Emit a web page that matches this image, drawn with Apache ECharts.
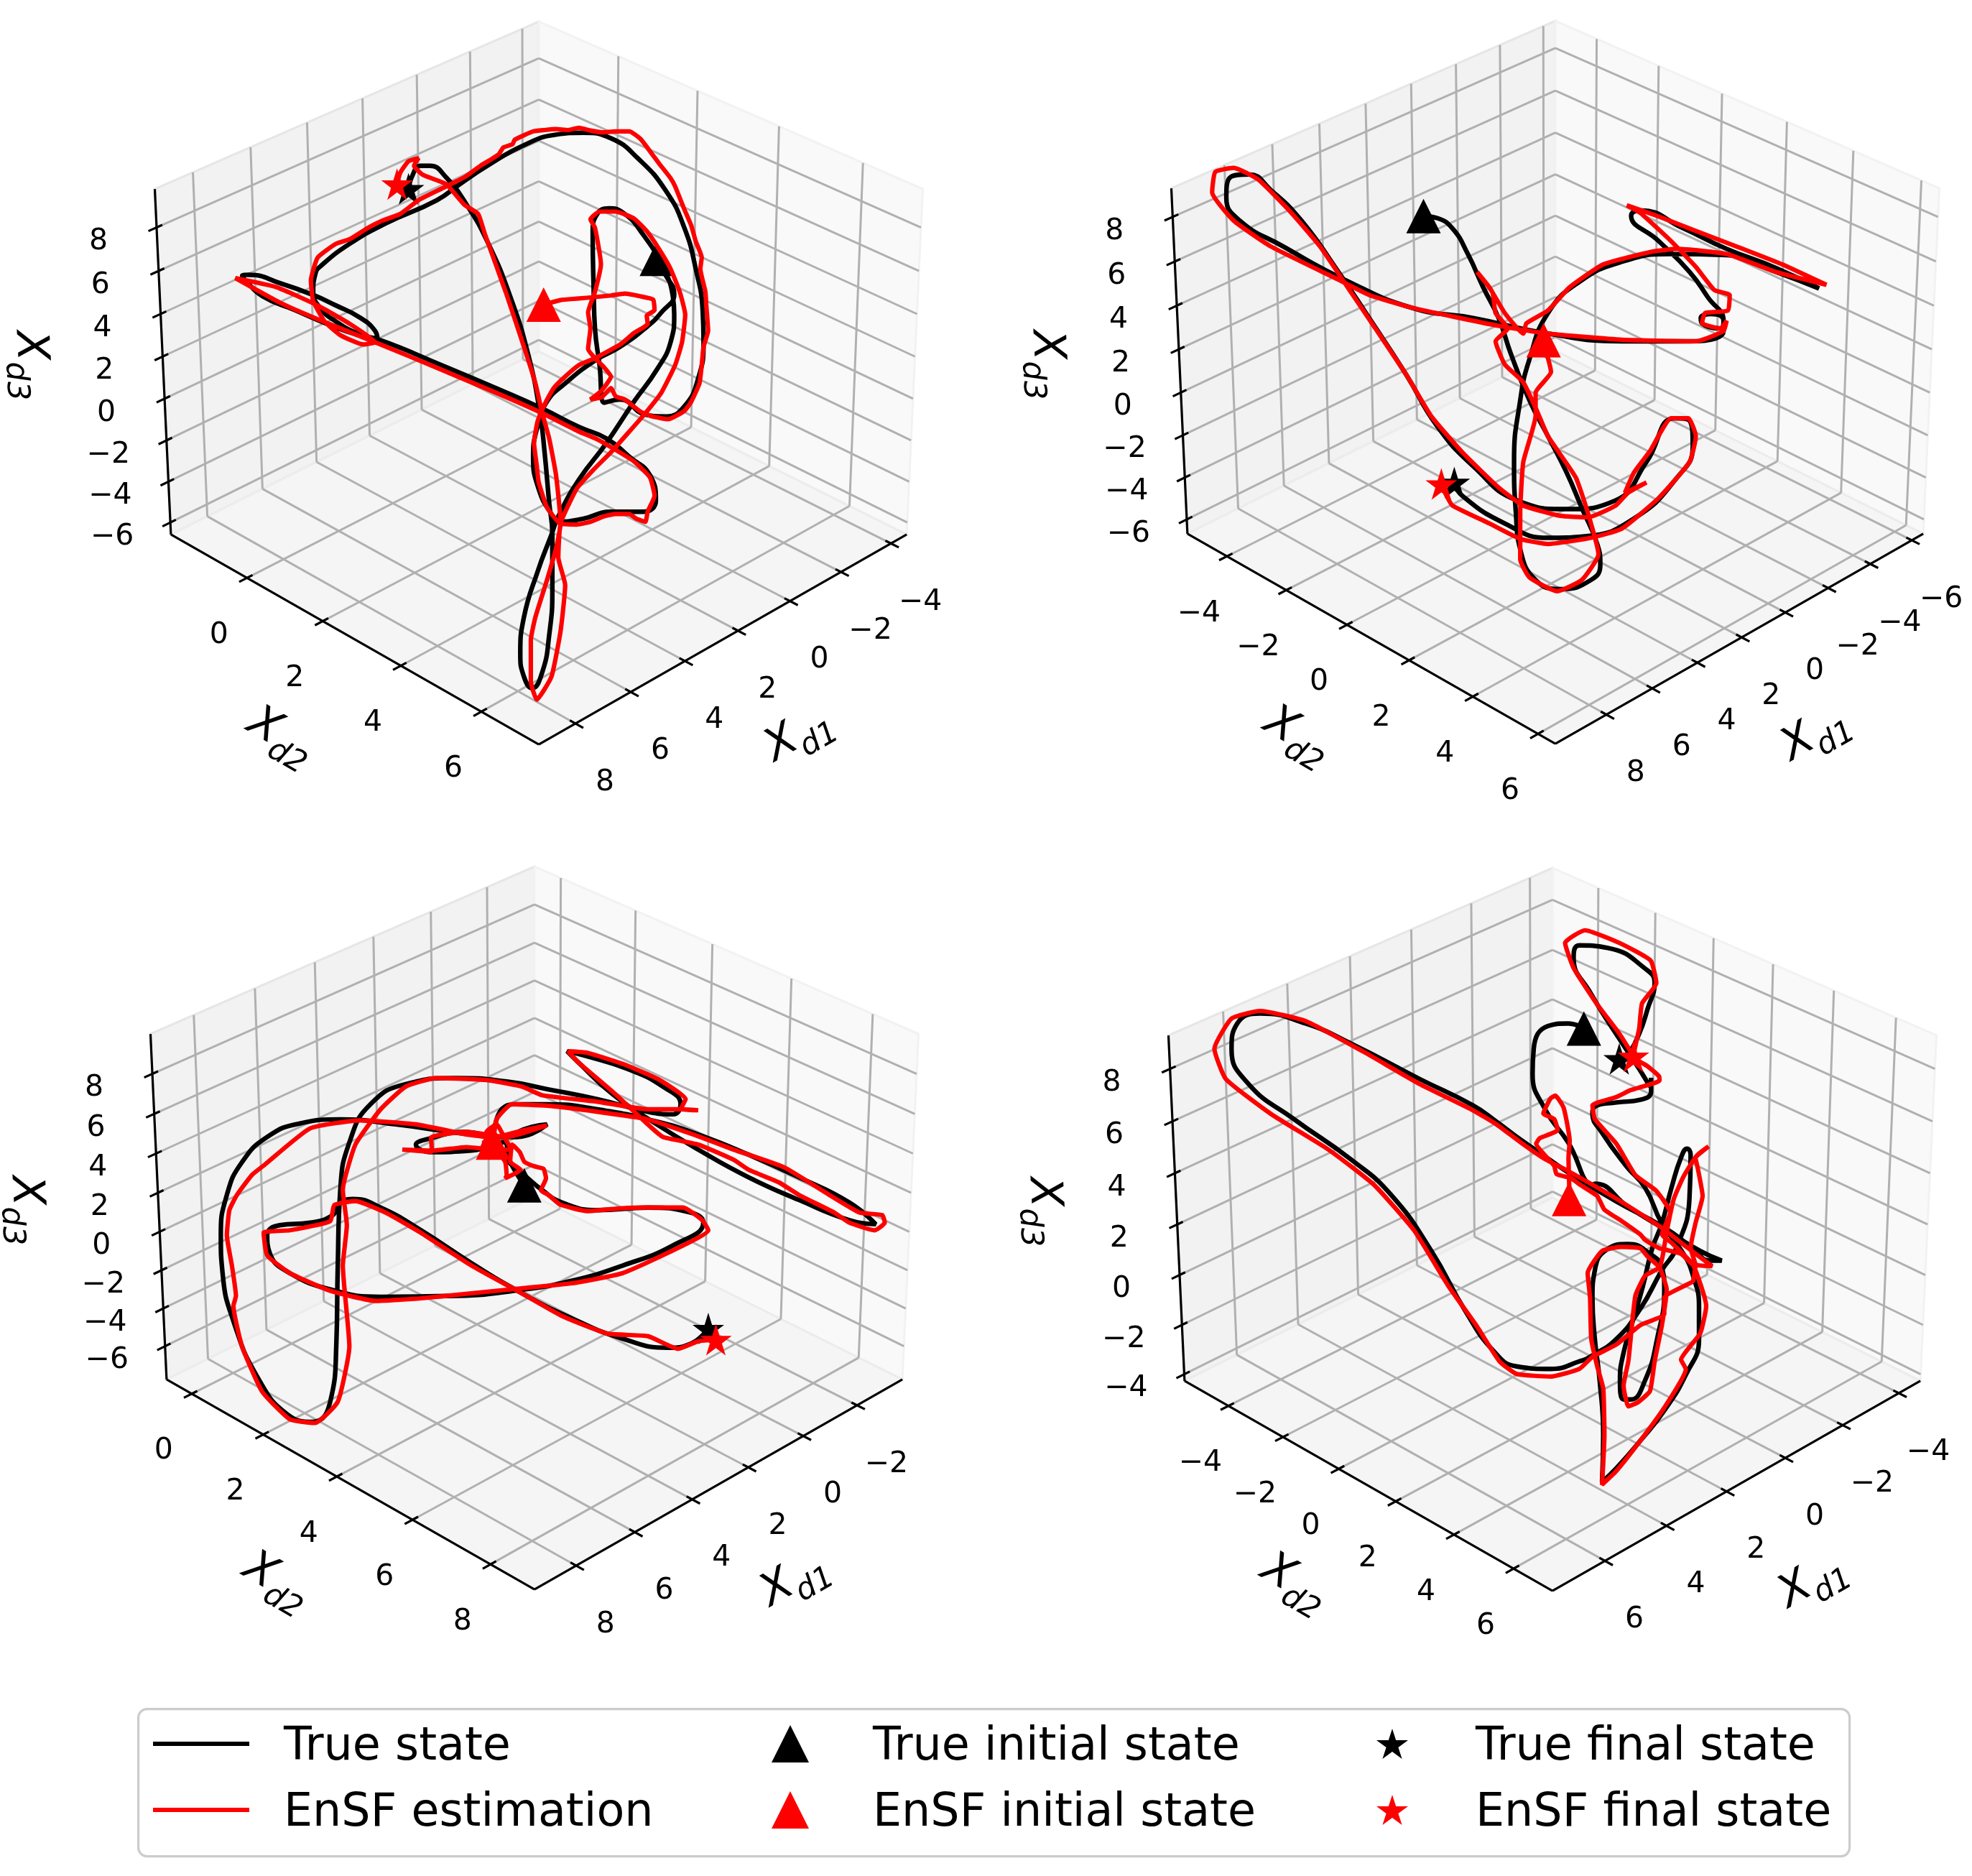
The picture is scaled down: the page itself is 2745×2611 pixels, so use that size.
<!DOCTYPE html>
<html><head><meta charset="utf-8">
<style>html,body{margin:0;padding:0;background:#fff}#c{width:2745px;height:2611px}</style>
<script src="https://cdn.jsdelivr.net/npm/echarts@6/dist/echarts.min.js"></script>
</head><body><div id="c"></div>
<script>
// ---- axis tick labels of every panel ----
const p1TicksD1=[-4,-2,0,2,4,6,8], p1TicksD2=[0,2,4,6], p1TicksD3=[-6,-4,-2,0,2,4,6,8];
const p2TicksD1=[-6,-4,-2,0,2,4,6,8], p2TicksD2=[-4,-2,0,2,4,6], p2TicksD3=[-6,-4,-2,0,2,4,6,8];
const p3TicksD1=[-2,0,2,4,6,8], p3TicksD2=[0,2,4,6,8], p3TicksD3=[-6,-4,-2,0,2,4,6,8];
const p4TicksD1=[-4,-2,0,2,4,6], p4TicksD2=[-4,-2,0,2,4,6], p4TicksD3=[-4,-2,0,2,4,6,8];
// ---- axis limits of every panel ----
const p1Lim={d1:[-4.64,9.30],d2:[-2.07,7.39],d3:[-6.59,9.75]};
const p2Lim={d1:[-6.56,10.18],d2:[-5.36,6.52],d3:[-6.69,9.27]};
const p3Lim={d1:[-3.72,9.39],d2:[-0.717,9.10],d3:[-7.77,9.97]};
const p4Lim={d1:[-4.78,7.67],d2:[-5.64,7.28],d3:[-4.27,9.26]};
// ---- projected trajectories (screen-plane units of each panel) ----
const p1True=[[1120,415],[1140,445],[1158,485],[1130,525],[1100,555],[1040,600],[985,630],[920,680],[880,720],[858,780],[850,840],[862,910],[890,965],[908,982],[960,975],[1020,960],[1090,960],[1118,935],[1105,880],[1060,840],[1010,800],[950,775],[870,735],[780,695],[650,640],[515,585],[470,575],[400,550],[330,520],[260,490],[222,455],[215,445],[230,443],[300,462],[370,487],[420,510],[470,535],[505,565],[510,582],[470,572],[420,545],[385,515],[370,480],[375,440],[385,425],[450,375],[530,330],[640,280],[690,245],[750,205],[830,160],[900,137],[960,133],[1020,145],[1080,190],[1140,260],[1180,340],[1205,430],[1220,520],[1222,590],[1210,670],[1180,730],[1140,752],[1095,748],[1040,715],[1005,722],[995,640],[985,560],[982,470],[980,350],[990,310],[1015,298],[1050,310],[1090,355],[1130,420],[1155,490],[1158,530],[1150,590],[1120,650],[1070,720],[1010,810],[950,890],[905,970],[890,1010],[860,1090],[830,1190],[822,1270],[830,1320],[848,1345],[870,1310],[885,1230],[892,1130],[892,1010],[885,940],[875,830],[865,745],[840,620],[800,490],[750,370],[705,290],[660,230],[625,205],[605,205],[585,230],[578,262]];
const p1Est=[[873,508],[910,498],[945,495],[980,492],[1020,488],[1050,484],[1085,490],[1112,497],[1115,520],[1098,532],[1100,550],[1070,570],[1040,595],[985,625],[950,640],[920,665],[895,690],[878,720],[860,762],[852,810],[858,860],[862,895],[880,950],[908,985],[945,988],[975,982],[1005,970],[1030,965],[1060,965],[1075,975],[1095,982],[1100,960],[1115,925],[1105,885],[1070,850],[1030,825],[990,802],[950,785],[870,745],[780,705],[650,650],[510,592],[380,540],[300,505],[200,450],[290,470],[380,510],[450,550],[505,590],[480,595],[430,575],[395,545],[370,500],[365,455],[380,405],[420,375],[450,365],[490,340],[520,325],[560,310],[600,280],[650,255],[700,230],[735,205],[760,190],[775,180],[785,165],[805,158],[810,148],[850,130],[875,127],[900,125],[925,127],[950,122],[975,128],[1000,132],[1030,130],[1060,130],[1085,147],[1110,180],[1125,200],[1150,232],[1160,250],[1172,280],[1180,300],[1195,335],[1205,370],[1218,405],[1215,430],[1226,480],[1228,510],[1232,565],[1222,600],[1218,640],[1213,680],[1195,720],[1180,740],[1145,758],[1110,752],[1085,742],[1050,715],[1030,708],[1020,690],[1000,710],[975,715],[1000,695],[1020,665],[1005,645],[985,625],[970,605],[975,560],[970,525],[985,480],[998,420],[985,340],[975,322],[995,305],[1030,305],[1070,320],[1100,350],[1130,395],[1150,430],[1170,480],[1182,530],[1175,590],[1160,640],[1130,700],[1095,745],[1060,785],[1020,830],[980,870],[945,910],[910,985],[905,1060],[920,1120],[910,1220],[890,1320],[858,1370],[845,1330],[845,1240],[855,1190],[880,1110],[900,1040],[910,985],[900,880],[885,800],[870,745],[855,680],[830,600],[790,480],[745,355],[730,310],[700,290],[660,245],[610,225],[590,205],[600,188],[578,195],[560,220],[553,245]];
const p1Marks={trueStart:[1120,408],estStart:[873,508],trueEnd:[578,255],estEnd:[553,245]};

const p2True=[[678,421],[700,425],[725,445],[750,495],[775,560],[800,620],[820,690],[850,780],[880,850],[910,920],[935,990],[960,1060],[965,1100],[950,1130],[900,1148],[860,1130],[835,1070],[828,1000],[825,900],[835,780],[850,700],[880,610],[930,550],[1000,510],[1080,495],[1170,497],[1250,530],[1320,562],[1250,522],[1170,485],[1100,445],[1030,410],[1015,420],[1060,470],[1110,530],[1140,580],[1165,625],[1160,640],[1130,630],[1128,620],[1145,612],[1165,625],[1165,645],[1110,665],[1000,665],[880,650],[760,620],[660,600],[550,545],[450,480],[380,430],[358,385],[365,345],[395,340],[430,370],[480,430],[540,530],[590,620],[650,730],[700,830],[760,910],[830,975],[910,992],[990,975],[1040,900],[1085,815],[1110,820],[1115,870],[1090,930],[1020,1010],[940,1045],[880,1048],[810,1020],[740,965],[728,940]];
const p2Est=[[873,668],[885,725],[860,765],[860,810],[840,900],[835,1000],[835,1050],[835,1090],[850,1125],[895,1152],[935,1130],[962,1080],[945,1000],[925,930],[880,850],[862,800],[840,745],[810,710],[795,665],[815,640],[795,610],[790,570],[765,530],[785,560],[810,610],[840,650],[845,630],[880,605],[915,560],[970,515],[1050,490],[1090,485],[1170,495],[1250,530],[1332,555],[1260,515],[1190,482],[1120,450],[1060,422],[1008,400],[1030,415],[1080,470],[1120,520],[1150,565],[1175,575],[1172,605],[1135,610],[1130,630],[1160,640],[1170,625],[1165,645],[1120,665],[1000,662],[880,650],[800,635],[660,600],[590,575],[540,545],[430,480],[370,430],[335,375],[340,335],[370,327],[410,350],[460,410],[510,480],[555,560],[600,640],[650,730],[690,810],[740,880],[800,950],[840,985],[900,1005],[945,1008],[990,985],[1010,960],[1040,940],[1005,960],[1020,920],[1045,880],[1080,815],[1108,815],[1120,850],[1110,900],[1060,970],[1000,1030],[950,1048],[880,1060],[835,1050],[785,1020],[725,985],[715,965],[707,943]];
const p2Marks={trueStart:[678,421],estStart:[873,663],trueEnd:[728,940],estEnd:[707,943]};

const p3True=[[755,640],[725,590],[715,555],[650,572],[570,575],[540,560],[560,550],[640,535],[700,545],[770,525],[800,520],[740,545],[650,540],[500,520],[390,510],[310,518],[245,545],[195,595],[165,660],[153,740],[157,820],[178,910],[225,1020],[285,1095],[335,1110],[370,1070],[382,960],[385,800],[390,650],[410,550],[450,480],[520,440],[620,428],[720,435],[800,450],[900,470],[1000,495],[1050,500],[1065,480],[1030,445],[960,410],[880,385],[840,375],[860,395],[930,460],[1010,515],[1100,570],[1200,625],[1300,670],[1400,710],[1452,718],[1400,675],[1300,625],[1200,580],[1100,540],[1020,515],[900,490],[800,480],[735,480],[700,510],[695,550],[720,590],[760,625],[790,650],[830,675],[900,690],[1000,685],[1085,695],[1110,715],[1050,760],[950,800],[850,830],[750,848],[620,860],[470,862],[380,850],[290,815],[250,775],[245,740],[270,720],[330,715],[375,700],[385,680],[415,668],[470,685],[550,730],[650,795],[750,855],[850,905],[950,945],[1040,963],[1085,955],[1120,925]];
const p3Est=[[693,556],[680,535],[700,520],[715,545],[730,570],[670,570],[690,530],[710,575],[675,555],[740,535],[800,522],[720,545],[640,535],[570,546],[572,575],[513,570],[575,572],[640,565],[693,570],[700,550],[640,540],[540,520],[430,512],[330,528],[240,600],[215,620],[185,660],[170,690],[165,740],[175,800],[183,860],[178,880],[195,960],[235,1050],[290,1105],[340,1112],[385,1070],[408,960],[395,800],[403,720],[395,650],[420,560],[470,490],[520,445],[580,428],[680,432],[750,445],[790,462],[900,475],[1000,490],[1065,490],[1100,492],[1065,490],[1075,470],[1020,430],[950,400],[880,378],[842,375],[860,395],[930,455],[1000,520],[1030,545],[1100,560],[1170,590],[1200,610],[1260,635],[1300,660],[1370,695],[1400,715],[1450,730],[1470,715],[1465,700],[1420,695],[1360,660],[1270,605],[1170,570],[1090,540],[1000,510],[900,495],[800,483],[730,480],[700,510],[693,560],[717,594],[720,622],[717,627],[748,610],[727,594],[731,560],[746,575],[755,594],[774,603],[793,608],[798,627],[788,651],[803,660],[826,679],[880,692],[940,687],[1000,685],[1070,685],[1108,710],[1120,730],[1050,770],[950,815],[850,835],[750,845],[650,855],[550,865],[460,870],[370,850],[290,815],[245,780],[238,735],[290,730],[370,712],[378,680],[420,672],[480,695],[550,735],[650,800],[750,855],[830,900],[920,935],[1000,940],[1060,965],[1100,950],[1135,947]];
const p3Marks={trueStart:[755,641],estStart:[693,556],trueEnd:[1120,925],estEnd:[1135,947]};

// panel 4 is read from two magnifications: "wide" and "close"
const p4TrueA=[[888,330],[860,320],[825,325],[800,370],[798,420],[820,490],[860,555],[905,640]];
const p4TrueB=[[510,385],[650,470],[800,550],[950,630],[1040,665],[990,665],[920,620],[800,545],[600,450],[400,345],[300,285],[200,225],[100,160],[0,100]];
const p4TrueC=[[600,430],[480,360],[400,320],[320,300],[280,320],[270,370],[300,440],[380,510],[480,590],[550,660],[620,770],[680,890],[730,970],[770,1000],[830,1005],[880,990]];
const p4TrueD=[[500,1010],[600,950],[700,840],[790,700],[850,620],[905,440],[910,280],[895,258],[870,290],[830,400],[790,530],[750,620],[710,760],[670,880],[630,1000],[615,1100],[630,1170],[660,1170],[720,1100],[770,950],[800,770],[790,690],[740,640],[650,605],[560,625],[510,700],[500,800],[510,950],[530,1100],[545,1300],[540,1470],[600,1420],[700,1320],[800,1210],[890,1080],[945,950],[945,830],[920,720],[880,640],[790,530],[720,400],[640,320],[540,200],[500,130],[510,105],[600,90],[700,80],[745,50],[745,0]];
const p4TrueE=[[1005,445],[985,410],[950,350],[900,260],[870,190],[880,165],[930,170],[1000,215],[1012,240],[1000,290],[985,340],[965,380],[950,390]];
const p4EstA=[[405,440],[400,290],[405,230],[380,110],[345,65],[325,75],[295,130],[340,150],[355,190],[280,220],[265,240],[340,320],[350,350],[410,365],[450,390],[520,430],[550,480],[620,520],[700,570],[720,590],[780,620],[870,640],[920,680],[1000,685],[900,620],[780,540],[600,440],[400,340],[300,295],[200,235],[100,170],[0,118]];
const p4EstB=[[600,440],[500,375],[400,315],[320,295],[270,310],[240,370],[260,430],[340,500],[440,570],[520,640],[590,730],[650,840],[700,920],[740,990],[770,1015],[830,1020],[880,1005]];
const p4EstC=[[500,1015],[600,970],[700,900],[800,860],[800,800],[900,750],[920,740],[930,680],[910,620],[930,530],[960,430],[940,330],[930,290],[985,250],[930,290],[880,360],[840,440],[810,560],[795,640],[780,690],[720,720],[680,790],[665,900],[650,1030],[630,1120],[650,1195],[690,1180],[740,1140],[760,1030],[790,900],[810,770],[780,690],[730,650],[700,620],[620,615],[540,630],[480,710],[490,800],[495,950],[520,1050],[545,1130],[550,1300],[540,1480],[600,1430],[700,1320],[800,1200],[890,1060],[870,1025],[950,930],[975,830],[920,680],[830,600],[790,570],[825,490],[765,410],[680,355],[600,240],[510,150],[500,100],[600,70],[660,45],[780,10]];
const p4EstD=[[1020,425],[1000,405],[975,385],[985,330],[990,280],[1015,240],[1005,195],[950,160],[890,135],[855,160],[870,210],[910,280],[950,340],[975,385]];
const p4Marks={trueStart:[888,330],estStart:[862,668],trueEnd:[950,390],estEnd:[975,385]};

// ---- how each reading maps to the figure's plane ----
const viewP1={ox:200,oy:100,sx:1.568,sy:1.568}, viewP2={ox:1400,oy:0,sx:1.166,sy:1.4},
      viewP3={ox:200,oy:1200,sx:1.425,sy:1.425}, viewP4={ox:1500,oy:1200,sx:1.26,sy:1.425},
      viewP4c={ox:2050,oy:1500,sx:3,sy:2.613};
const toPlane=(v,a)=>a.map(p=>[v.ox+p[0]/v.sx, v.oy+p[1]/v.sy]);

// ---- camera of the 3-D box (elev 30, azim 45, dist 10) ----
const BOX_A=0.5714, BOX_C=0.4286, FOCAL=6473;
const U=[-0.70711,0.70711,0], V=[-0.35355,-0.35355,0.86603], W=[0.61237,0.61237,0.5];
const dot=(a,b)=>a[0]*b[0]+a[1]*b[1]+a[2]*b[2];
function camera(cx,top,lim){
  const y0=top+FOCAL*0.07394;
  return function(d1,d2,d3){
    const p=[((d1-lim.d1[0])/(lim.d1[1]-lim.d1[0])*2-1)*BOX_A,
             ((d2-lim.d2[0])/(lim.d2[1]-lim.d2[0])*2-1)*BOX_A,
             ((d3-lim.d3[0])/(lim.d3[1]-lim.d3[0])*2-1)*BOX_C];
    const d=10-dot(p,W);
    return [cx+FOCAL*dot(p,U)/d, y0-FOCAL*dot(p,V)/d];
  };
}
const fmt=v=>v<0?'\u2212'+(-v):String(v);
const starPath=(()=>{let s='path://';for(let i=0;i<10;i++){const r=i%2?0.381966:1,a=-Math.PI/2+i*Math.PI/5;
  s+=(i?'L':'M')+(r*Math.cos(a)*100+100).toFixed(2)+' '+(r*Math.sin(a)*100+100).toFixed(2);}return s+'Z';})();
// legend glyphs sit slightly above the centre of their text line
const legLineIcon='path://M0 0H134V6H0ZM0 16L0 16';
const legTriIcon='path://M50 0L100 100L0 100ZM50 119L50 119';
const legStarIcon=starPath+'M100 224L100 224';

const GRAY='#b0b0b0', INK='#000000', RED='#ff0000';
const segRender=(stroke,w)=>(params,api)=>{
  const a=api.coord([api.value(0),api.value(1)]), b=api.coord([api.value(2),api.value(3)]);
  return {type:'line',shape:{x1:a[0],y1:a[1],x2:b[0],y2:b[1]},style:{stroke:stroke,lineWidth:w,lineCap:'butt'},silent:true};
};
const polyRender=(fill,edge)=>(params,api)=>{
  const pts=[];for(let i=0;i<4;i++)pts.push(api.coord([api.value(2*i),api.value(2*i+1)]));
  return {type:'polygon',shape:{points:pts},style:{fill:fill,stroke:edge,lineWidth:3},silent:true};
};
const plainFont='DejaVu Sans';
const panels=[
 {cx:750,top:30,lim:p1Lim,t1:p1TicksD1,t2:p1TicksD2,t3:p1TicksD3,tr:toPlane(viewP1,p1True),es:toPlane(viewP1,p1Est),m:toPlane(viewP1,[p1Marks.trueStart,p1Marks.estStart,p1Marks.trueEnd,p1Marks.estEnd]),box:[0,1372,0,1150]},
 {cx:2165,top:29,lim:p2Lim,t1:p2TicksD1,t2:p2TicksD2,t3:p2TicksD3,tr:toPlane(viewP2,p2True),es:toPlane(viewP2,p2Est),m:toPlane(viewP2,[p2Marks.trueStart,p2Marks.estStart,p2Marks.trueEnd,p2Marks.estEnd]),box:[1372,2745,0,1150]},
 {cx:744,top:1206,lim:p3Lim,t1:p3TicksD1,t2:p3TicksD2,t3:p3TicksD3,tr:toPlane(viewP3,p3True),es:toPlane(viewP3,p3Est),m:toPlane(viewP3,[p3Marks.trueStart,p3Marks.estStart,p3Marks.trueEnd,p3Marks.estEnd]),box:[0,1372,1150,2340]},
 {cx:2161,top:1208,lim:p4Lim,t1:p4TicksD1,t2:p4TicksD2,t3:p4TicksD3,
  tr:[].concat(toPlane(viewP4,p4TrueA),toPlane(viewP4c,p4TrueB),toPlane(viewP4,p4TrueC),toPlane(viewP4c,p4TrueD),toPlane(viewP4,p4TrueE)),
  es:[].concat(toPlane(viewP4c,p4EstA),toPlane(viewP4,p4EstB),toPlane(viewP4c,p4EstC),toPlane(viewP4,p4EstD)),
  m:toPlane(viewP4,[p4Marks.trueStart,p4Marks.estStart,p4Marks.trueEnd,p4Marks.estEnd]),box:[1372,2745,1150,2340]}
];
const grid=[],xAxis=[],yAxis=[],series=[];
const solid=c=>({color:c,opacity:1});
panels.forEach((P,i)=>{
  const [x0,x1,y0,y1]=P.box, L=P.lim, pr=camera(P.cx,P.top,L);
  grid.push({left:x0,top:y0,width:x1-x0,height:y1-y0});
  xAxis.push({type:'value',gridIndex:i,min:x0,max:x1,show:false});
  yAxis.push({type:'value',gridIndex:i,min:y0,max:y1,inverse:true,show:false});
  const a1=L.d1[0],b1=L.d1[1],a2=L.d2[0],b2=L.d2[1],a3=L.d3[0],b3=L.d3[1];
  const on={xAxisIndex:i,yAxisIndex:i,clip:false,silent:true};
  const quad=(...c)=>[[].concat(...c)];
  series.push({type:'custom',...on,z:1,renderItem:polyRender('#f2f2f2','#e6e6e6'),data:quad(pr(b1,a2,a3),pr(a1,a2,a3),pr(a1,a2,b3),pr(b1,a2,b3))});
  series.push({type:'custom',...on,z:1,renderItem:polyRender('#f9f9f9','#f2f2f2'),data:quad(pr(a1,a2,a3),pr(a1,b2,a3),pr(a1,b2,b3),pr(a1,a2,b3))});
  series.push({type:'custom',...on,z:1,renderItem:polyRender('#f5f5f5','#ececec'),data:quad(pr(b1,a2,a3),pr(b1,b2,a3),pr(a1,b2,a3),pr(a1,a2,a3))});
  const gl=[],axl=[],tk=[],lab=[];
  P.t1.forEach(v=>{
    gl.push([...pr(v,b2,a3),...pr(v,a2,a3)],[...pr(v,a2,a3),...pr(v,a2,b3)]);
    const e=pr(v,b2,a3), r=b2-a2;
    tk.push([...pr(v,b2+0.02*r,a3),...pr(v,b2-0.014*r,a3)]);
    lab.push({name:fmt(v),value:[e[0]+41,e[1]+82]});
  });
  P.t2.forEach(v=>{
    gl.push([...pr(b1,v,a3),...pr(a1,v,a3)],[...pr(a1,v,a3),...pr(a1,v,b3)]);
    const e=pr(b1,v,a3), r=b1-a1;
    tk.push([...pr(b1+0.02*r,v,a3),...pr(b1-0.014*r,v,a3)]);
    lab.push({name:fmt(v),value:[e[0]-39,e[1]+80]});
  });
  P.t3.forEach(v=>{
    gl.push([...pr(b1,a2,v),...pr(a1,a2,v)],[...pr(a1,a2,v),...pr(a1,b2,v)]);
    const e=pr(b1,a2,v), r=b1-a1;
    tk.push([...pr(b1+0.02*r,a2,v),...pr(b1-0.014*r,a2,v)]);
    lab.push({name:fmt(v),value:[e[0]-81,e[1]+20]});
  });
  axl.push([...pr(b1,a2,a3),...pr(b1,a2,b3)],[...pr(b1,a2,a3),...pr(b1,b2,a3)],[...pr(b1,b2,a3),...pr(a1,b2,a3)]);
  series.push({type:'custom',...on,z:2,renderItem:segRender(GRAY,3),data:gl});
  series.push({type:'custom',...on,z:3,renderItem:segRender(INK,3.2),data:axl.concat(tk)});
  series.push({type:'scatter',...on,z:3,symbolSize:0,itemStyle:{opacity:1},data:lab,label:{show:true,position:'inside',formatter:'{b}',color:INK,opacity:1,fontFamily:plainFont,fontSize:41,align:'center',verticalAlign:'middle'}});
  const axisTitle=(name,sub,xy,rot)=>({type:'scatter',...on,z:3,symbolSize:0,itemStyle:{opacity:1},data:[{name:name,value:xy}],
    label:{show:true,position:'inside',rotate:rot,align:'center',verticalAlign:'middle',opacity:1,
      formatter:'{x|X}{s|'+sub+'}',
      rich:{x:{fontFamily:plainFont,fontStyle:'italic',fontSize:62,color:INK,verticalAlign:'bottom',lineHeight:74},
            s:{fontFamily:plainFont,fontStyle:'italic',fontSize:43,color:INK,verticalAlign:'bottom',lineHeight:52,padding:[0,0,-12,0]}}}});
  series.push(axisTitle('d1','d1',[P.cx+359,P.top+987],30));
  series.push(axisTitle('d2','d2',[P.cx-356,P.top+990],-30));
  series.push(axisTitle('d3','d3',[P.cx-702,P.top+478],-87));
  series.push({name:'True state',type:'line',...on,z:4,data:P.tr,smooth:0.5,showSymbol:false,symbol:'none',itemStyle:solid(INK),lineStyle:{color:INK,width:6.4,opacity:1}});
  series.push({name:'True initial state',type:'scatter',...on,z:5,symbol:'triangle',symbolSize:48,itemStyle:solid(INK),data:[P.m[0]]});
  series.push({name:'True final state',type:'scatter',...on,z:5,symbol:starPath,symbolSize:44,itemStyle:solid(INK),data:[P.m[2]]});
  series.push({name:'EnSF estimation',type:'line',...on,z:6,data:P.es,smooth:0.15,showSymbol:false,symbol:'none',itemStyle:solid(RED),lineStyle:{color:RED,width:6.2,opacity:1}});
  series.push({name:'EnSF initial state',type:'scatter',...on,z:7,symbol:'triangle',symbolSize:48,itemStyle:solid(RED),data:[P.m[1]]});
  series.push({name:'EnSF final state',type:'scatter',...on,z:7,symbol:starPath,symbolSize:44,itemStyle:solid(RED),data:[P.m[3]]});
});
const legCommon={orient:'vertical',top:2400,padding:0,itemGap:28,selectedMode:false,zlevel:1};
const legText=p=>({fontFamily:plainFont,fontSize:63.5,color:INK,padding:[0,0,0,p]});
const legend=[
 {...legCommon,left:213,itemWidth:134,itemHeight:16,icon:legLineIcon,textStyle:legText(43),data:['True state','EnSF estimation']},
 {...legCommon,left:1074,itemWidth:52,itemHeight:62,icon:legTriIcon,textStyle:legText(84),data:['True initial state','EnSF initial state']},
 {...legCommon,left:1916,itemWidth:44,itemHeight:52,icon:legStarIcon,textStyle:legText(89),data:['True final state','EnSF final state']}
];
const chart=echarts.init(document.getElementById('c'),null,{width:2745,height:2611,renderer:'canvas'});
chart.setOption({animation:false,backgroundColor:'#ffffff',grid,xAxis,yAxis,series,legend,
 graphic:[{type:'rect',left:191,top:2377,shape:{width:2382,height:205,r:12},style:{fill:'#ffffff',stroke:'#cccccc',lineWidth:3.2},z:0,silent:true}]});
</script></body></html>
